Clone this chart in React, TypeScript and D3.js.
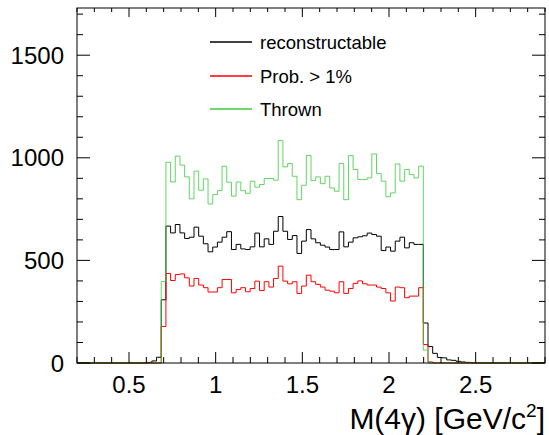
import { useEffect, useRef } from "react";
import * as d3 from "d3";

// histogram binning: 100 bins from 0.2 to 2.9
const xMin = 0.2;
const xMax = 2.9;
const nBins = 100;
const yMax = 1730;

const legendLabels = ["reconstructable", "Prob. > 1%", "Thrown"];

// bin contents (bins 0..99)
const reconstructable = [
  0, 0, 0, 0, 0, 0, 0, 0, 0, 0, 0, 0, 0, 0, 0, 3, 10, 28, 308, 667,
  634, 675, 634, 607, 613, 662, 618, 581, 542, 565, 589, 613, 640, 553, 578, 556, 553, 566, 633, 566,
  605, 578, 642, 714, 642, 602, 621, 534, 594, 650, 605, 586, 574, 565, 553, 553, 639, 566, 589, 610,
  615, 620, 633, 626, 618, 548, 565, 545, 594, 613, 561, 586, 578, 578, 195, 80, 47, 27, 25, 15,
  13, 8, 5, 3, 1, 0, 0, 0, 0, 0, 0, 0, 0, 0, 0, 0, 0, 0, 0, 0,
];

const probAbove1 = [
  0, 0, 0, 0, 0, 0, 0, 0, 0, 0, 0, 0, 0, 0, 0, 0, 0, 0, 178, 436,
  402, 431, 434, 415, 375, 412, 380, 367, 346, 346, 367, 407, 407, 342, 358, 367, 347, 363, 399, 353,
  396, 370, 412, 472, 399, 386, 396, 339, 375, 428, 396, 383, 370, 355, 350, 342, 396, 339, 363, 388,
  400, 386, 380, 380, 370, 363, 342, 302, 370, 367, 318, 326, 326, 367, 90, 5, 0, 0, 0, 0,
  0, 0, 0, 0, 0, 0, 0, 0, 0, 0, 0, 0, 0, 0, 0, 0, 0, 0, 0, 0,
];

const thrown = [
  0, 0, 0, 0, 0, 0, 0, 0, 0, 0, 0, 0, 0, 0, 0, 0, 0, 0, 397, 978,
  882, 1008, 964, 907, 800, 935, 842, 897, 775, 821, 840, 959, 881, 813, 882, 840, 827, 886, 857, 870,
  899, 899, 891, 1084, 956, 972, 910, 796, 866, 1011, 889, 907, 874, 910, 853, 837, 972, 796, 1011, 943,
  894, 894, 902, 1019, 923, 886, 810, 829, 970, 886, 943, 918, 902, 959, 63, 0, 0, 0, 0, 0,
  0, 0, 0, 0, 0, 0, 0, 0, 0, 0, 0, 0, 0, 0, 0, 0, 0, 0, 0, 0,
];

const xMajorTicks = [0.5, 1, 1.5, 2, 2.5];
const yMajorTicks = [0, 500, 1000, 1500];

function App() {
  const ref = useRef<SVGSVGElement>(null);

  const width = 549;
  const height = 435;
  const margin = { top: 8, right: 4, bottom: 72, left: 77 };
  const innerWidth = width - margin.left - margin.right;
  const innerHeight = height - margin.top - margin.bottom;

  useEffect(() => {
    const svg = d3.select(ref.current);
    svg.selectAll("*").remove();

    const g = svg.append("g").attr("transform", `translate(${margin.left}, ${margin.top})`);

    const xScale = d3.scaleLinear([xMin, xMax], [0, innerWidth]);
    const yScale = d3.scaleLinear([0, yMax], [innerHeight, 0]);
    const binW = (xMax - xMin) / nBins;

    const font = "'Liberation Sans', Arial, Helvetica, sans-serif";

    // histograms as step outlines
    const stepLine = d3
      .line<[number, number]>()
      .x((d) => xScale(d[0]))
      .y((d) => yScale(d[1]))
      .curve(d3.curveStepAfter);

    function histPoints(values: number[]): [number, number][] {
      const pts: [number, number][] = [[xMin, 0]];
      values.forEach((v, i) => pts.push([xMin + i * binW, v]));
      pts.push([xMax, values[values.length - 1]]);
      pts.push([xMax, 0]);
      return pts;
    }

    const series = [
      { values: reconstructable, color: "#000000", opacity: 1 },
      { values: probAbove1, color: "#ff0000", opacity: 1 },
      { values: thrown, color: "#3ccc3c", opacity: 0.8 },
    ];

    series.forEach((s) => {
      g.append("path")
        .attr("d", stepLine(histPoints(s.values)))
        .attr("fill", "none")
        .attr("stroke", s.color)
        .attr("stroke-opacity", s.opacity)
        .attr("stroke-width", 1);
    });

    // frame
    g.append("rect")
      .attr("x", 0)
      .attr("y", 0)
      .attr("width", innerWidth)
      .attr("height", innerHeight)
      .attr("fill", "none")
      .attr("stroke", "#000")
      .attr("stroke-width", 1);

    // x ticks (bottom and top)
    const xMinor = d3.range(2, 30).map((d) => d / 10);
    xMinor.forEach((t) => {
      const major = xMajorTicks.some((m) => Math.abs(m - t) < 1e-6);
      const len = major ? 11 : 6;
      const x = xScale(t);
      g.append("line").attr("x1", x).attr("x2", x).attr("y1", innerHeight).attr("y2", innerHeight - len).attr("stroke", "#000");
      g.append("line").attr("x1", x).attr("x2", x).attr("y1", 0).attr("y2", len - 2).attr("stroke", "#000");
    });

    // y ticks (left and right)
    const yMinor = d3.range(0, 1800, 100);
    yMinor.forEach((t) => {
      const major = t % 500 === 0;
      const len = major ? 13 : 6;
      const y = yScale(t);
      g.append("line").attr("x1", 0).attr("x2", len).attr("y1", y).attr("y2", y).attr("stroke", "#000");
      g.append("line").attr("x1", innerWidth).attr("x2", innerWidth - len).attr("y1", y).attr("y2", y).attr("stroke", "#000");
    });

    // tick labels
    g.selectAll(".xlab")
      .data(xMajorTicks)
      .join("text")
      .attr("x", (d) => xScale(d))
      .attr("y", innerHeight + 30)
      .attr("text-anchor", "middle")
      .style("font-family", font)
      .style("font-size", "24px")
      .text((d) => String(d));

    g.selectAll(".ylab")
      .data(yMajorTicks)
      .join("text")
      .attr("x", -13)
      .attr("y", (d) => yScale(d) + 8.5)
      .attr("text-anchor", "end")
      .style("font-family", font)
      .style("font-size", "24px")
      .text((d) => String(d));

    // x axis title
    const title = svg
      .append("text")
      .attr("x", width - 4)
      .attr("y", 429)
      .attr("text-anchor", "end")
      .style("font-family", font)
      .style("font-size", "30px");
    title.append("tspan").text("M(4γ) [GeV/c");
    title.append("tspan").attr("dy", -12).style("font-size", "19px").text("2");
    title.append("tspan").attr("dy", 12).text("]");

    // legend
    const legendColors = ["#000000", "#ff0000", "#3ccc3c"];
    const legendY = [42, 76, 109];
    legendLabels.forEach((label, i) => {
      svg.append("line")
        .attr("x1", 210)
        .attr("x2", 252)
        .attr("y1", legendY[i])
        .attr("y2", legendY[i])
        .attr("stroke", legendColors[i])
        .attr("stroke-width", 1.5);
      svg.append("text")
        .attr("x", 260)
        .attr("y", legendY[i] + 6.5)
        .style("font-family", font)
        .style("font-size", "18.5px")
        .text(label);
    });
  }, []);

  return (
    <div style={{ position: "fixed", left: 0, top: 0 }}>
      <svg ref={ref} width={width} height={height} style={{ display: "block", background: "#fff" }} />
    </div>
  );
}

export default App;
